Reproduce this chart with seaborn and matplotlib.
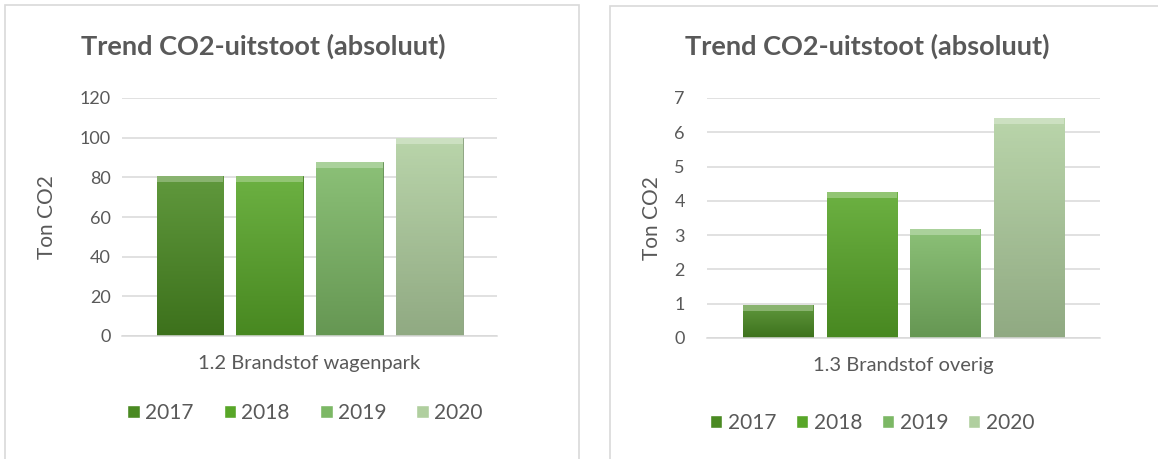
import numpy as np
import pandas as pd
import seaborn as sns
import matplotlib.pyplot as plt
from matplotlib.patches import Rectangle
from matplotlib.colors import to_rgb

jaren = ["2017", "2018", "2019", "2020"]
wagenpark = [80.5, 80.5, 87.8, 100.0]
overig = [0.95, 4.25, 3.18, 6.42]
kleuren = ["#4a8a22", "#58a628", "#7cb865", "#b0cf9f"]

titel = "Trend CO2-uitstoot (absoluut)"
ylabel = "Ton CO2"
tekst = "#595959"
grid = "#d9d9d9"

sns.set_theme(style="white")
plt.rcParams['font.family'] = ['Lato', 'DejaVu Sans']

W, H = 1158, 459
fig = plt.figure(figsize=(W / 100, H / 100), dpi=100)

# panel borders like the Excel chart frames
fig.patches.append(Rectangle((5 / W, -0.1), 574 / W, 1.1 - 5 / H, transform=fig.transFigure,
                             fill=False, edgecolor=grid, linewidth=1.2))
fig.patches.append(Rectangle((610 / W, -0.1), 600 / W, 1.1 - 6 / H, transform=fig.transFigure,
                             fill=False, edgecolor=grid, linewidth=1.2))


def mix(c, other, t):
    c = np.array(to_rgb(c))
    return c * (1 - t) + np.array(other) * t


def chart(rect, categorie, waarden, ymax, ystep, ytickpad, ylab_x, titel_x, leg_xy, colspace):
    ax = fig.add_axes(rect)
    df = pd.DataFrame({"categorie": categorie, "jaar": jaren, "ton": waarden})
    sns.barplot(data=df, x="categorie", y="ton", hue="jaar", palette=kleuren,
                width=0.85, gap=0.16, ax=ax, saturation=1)
    # vertical gradient on every bar
    for p in ax.patches:
        x, y = p.get_x(), p.get_y()
        w, h = p.get_width(), p.get_height()
        if h <= 0:
            continue
        c = p.get_facecolor()[:3]
        top = mix(c, (1, 1, 1), 0.12)
        bot = mix(c, (0, 0, 0), 0.18)
        t = np.linspace(0, 1, 64)[:, None]
        img = (top[None, :] * (1 - t) + bot[None, :] * t)[:, None, :]
        im = ax.imshow(img, extent=(x, x + w, y, y + h), aspect='auto', origin='upper', zorder=2)
        im.set_clip_path(p)
        # light bevel along the top edge
        ax.add_patch(Rectangle((x, y + h - ymax * 0.025), w, ymax * 0.025,
                               facecolor=mix(c, (1, 1, 1), 0.35), edgecolor='none', zorder=3))
        p.set_edgecolor(mix(c, (0, 0, 0), 0.25))
        p.set_linewidth(0.6)
        p.set_zorder(2)
    ax.set_xlim(-0.5, 0.5)
    ax.set_ylim(0, ymax)
    ax.set_yticks(np.arange(0, ymax + ystep / 2, ystep))
    ax.yaxis.grid(True, color=grid, linewidth=1.1)
    ax.set_axisbelow(True)
    for s in ["top", "right", "left"]:
        ax.spines[s].set_visible(False)
    ax.spines["bottom"].set_color(grid)
    ax.spines["bottom"].set_linewidth(1.1)
    ax.tick_params(axis='y', length=0, pad=ytickpad, labelsize=13, labelcolor=tekst)
    ax.tick_params(axis='x', length=0, pad=14, labelsize=14.5, labelcolor=tekst)
    ax.set_xlabel("")
    ax.set_ylabel(ylabel, fontsize=15, color=tekst)
    ax.yaxis.set_label_coords(ylab_x, 0.5)
    fig.text(titel_x / W, 1 - 46 / H, titel, ha='center', va='center',
             fontsize=19.5, fontweight='bold', color=tekst)
    handles, labels = ax.get_legend_handles_labels()
    ax.legend(handles, labels, loc='center', bbox_to_anchor=(leg_xy[0] / W, 1 - leg_xy[1] / H),
              bbox_transform=fig.transFigure, ncol=4, frameon=False, fontsize=15,
              labelcolor=tekst, handlelength=0.6, handleheight=0.6, handletextpad=0.25,
              columnspacing=colspace)
    return ax


chart([122 / W, 1 - 336 / H, 375 / W, 238 / H], "1.2 Brandstof wagenpark", wagenpark,
      120, 20, 8, -0.173, 263, (305, 413), 1.45)
chart([707 / W, 1 - 338 / H, 393 / W, 240 / H], "1.3 Brandstof overig", overig,
      7, 1, 16, -0.115, 867, (872, 423), 0.95)

fig.savefig("out.png", dpi=100, facecolor="white")
